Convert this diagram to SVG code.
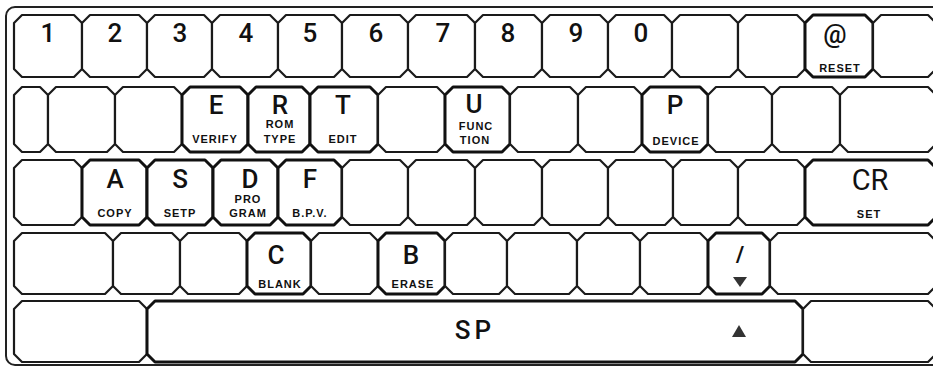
<svg xmlns="http://www.w3.org/2000/svg" width="933" height="367" viewBox="0 0 933 367">
<style>
.frame{fill:none;stroke:#222;stroke-width:2}
.k{fill:#fff;stroke:#1a1a1a;stroke-width:2.2;stroke-linejoin:round}
.kb{fill:#fff;stroke:#111;stroke-width:3;stroke-linejoin:round}
.m{font-family:Roboto,"Liberation Sans",Arial,sans-serif;font-weight:500;font-size:26px;fill:#111;text-anchor:middle}
.s{font-family:"Liberation Sans",Arial,sans-serif;font-weight:bold;font-size:11px;letter-spacing:1px;fill:#111;text-anchor:middle}
.tri{fill:#333}
</style>
<rect class="frame" x="6" y="7" width="940" height="358" rx="9"/>
<g id="row1">
<g id="key-1"><polygon class="k" points="22,15 74,15 82,23 82,69 74,77 22,77 14,69 14,23"/><text class="m" x="48" y="42">1</text></g>
<g id="key-2"><polygon class="k" points="90,15 139,15 147,23 147,69 139,77 90,77 82,69 82,23"/><text class="m" x="115" y="42">2</text></g>
<g id="key-3"><polygon class="k" points="155,15 204,15 212,23 212,69 204,77 155,77 147,69 147,23"/><text class="m" x="180" y="42">3</text></g>
<g id="key-4"><polygon class="k" points="220,15 270,15 278,23 278,69 270,77 220,77 212,69 212,23"/><text class="m" x="246" y="42">4</text></g>
<g id="key-5"><polygon class="k" points="286,15 334,15 342,23 342,69 334,77 286,77 278,69 278,23"/><text class="m" x="310" y="42">5</text></g>
<g id="key-6"><polygon class="k" points="350,15 400,15 408,23 408,69 400,77 350,77 342,69 342,23"/><text class="m" x="376" y="42">6</text></g>
<g id="key-7"><polygon class="k" points="416,15 467,15 475,23 475,69 467,77 416,77 408,69 408,23"/><text class="m" x="443" y="42">7</text></g>
<g id="key-8"><polygon class="k" points="483,15 534,15 542,23 542,69 534,77 483,77 475,69 475,23"/><text class="m" x="508" y="42">8</text></g>
<g id="key-9"><polygon class="k" points="550,15 600,15 608,23 608,69 600,77 550,77 542,69 542,23"/><text class="m" x="576" y="42">9</text></g>
<g id="key-0"><polygon class="k" points="616,15 664,15 672,23 672,69 664,77 616,77 608,69 608,23"/><text class="m" x="641" y="42">0</text></g>
<g id="key-r1-11"><polygon class="k" points="680,15 730,15 738,23 738,69 730,77 680,77 672,69 672,23"/></g>
<g id="key-r1-12"><polygon class="k" points="746,15 797,15 805,23 805,69 797,77 746,77 738,69 738,23"/></g>
<g id="key-at"><polygon class="kb" points="813,15 865,15 873,23 873,69 865,77 813,77 805,69 805,23"/><text class="m" x="835" y="43">@</text><text class="s" x="840" y="72">RESET</text></g>
<g id="key-r1-14"><polygon class="k" points="881,15 928,15 936,23 936,69 928,77 881,77 873,69 873,23"/></g>
</g>
<g id="row2">
<g id="key-r2-1"><polygon class="k" points="22,87 40,87 48,95 48,144 40,152 22,152 14,144 14,95"/></g>
<g id="key-r2-2"><polygon class="k" points="56,87 107,87 115,95 115,144 107,152 56,152 48,144 48,95"/></g>
<g id="key-r2-3"><polygon class="k" points="123,87 174,87 182,95 182,144 174,152 123,152 115,144 115,95"/></g>
<g id="key-E"><polygon class="kb" points="190,87 240,87 248,95 248,144 240,152 190,152 182,144 182,95"/><text class="m" x="216" y="114">E</text><text class="s" x="215" y="143">VERIFY</text></g>
<g id="key-R"><polygon class="kb" points="256,87 302,87 310,95 310,144 302,152 256,152 248,144 248,95"/><text class="m" x="280" y="114">R</text><text class="s" x="280" y="128">ROM</text><text class="s" x="280" y="143">TYPE</text></g>
<g id="key-T"><polygon class="kb" points="318,87 370,87 378,95 378,144 370,152 318,152 310,144 310,95"/><text class="m" x="343" y="114">T</text><text class="s" x="343" y="143">EDIT</text></g>
<g id="key-r2-8"><polygon class="k" points="386,87 437,87 445,95 445,144 437,152 386,152 378,144 378,95"/></g>
<g id="key-U"><polygon class="kb" points="453,87 502,87 510,95 510,144 502,152 453,152 445,144 445,95"/><text class="m" x="474" y="113">U</text><text class="s" x="476" y="130">FUNC</text><text class="s" x="475" y="144">TION</text></g>
<g id="key-r2-10"><polygon class="k" points="518,87 570,87 578,95 578,144 570,152 518,152 510,144 510,95"/></g>
<g id="key-r2-11"><polygon class="k" points="586,87 634,87 642,95 642,144 634,152 586,152 578,144 578,95"/></g>
<g id="key-P"><polygon class="kb" points="650,87 700,87 708,95 708,144 700,152 650,152 642,144 642,95"/><text class="m" x="675" y="114">P</text><text class="s" x="676" y="145">DEVICE</text></g>
<g id="key-r2-13"><polygon class="k" points="716,87 764,87 772,95 772,144 764,152 716,152 708,144 708,95"/></g>
<g id="key-r2-14"><polygon class="k" points="780,87 832,87 840,95 840,144 832,152 780,152 772,144 772,95"/></g>
<g id="key-r2-15"><polygon class="k" points="848,87 928,87 936,95 936,144 928,152 848,152 840,144 840,95"/></g>
</g>
<g id="row3">
<g id="key-r3-1"><polygon class="k" points="22,160 74,160 82,168 82,217 74,225 22,225 14,217 14,168"/></g>
<g id="key-A"><polygon class="kb" points="90,160 139,160 147,168 147,217 139,225 90,225 82,217 82,168"/><text class="m" x="115" y="188">A</text><text class="s" x="115" y="217">COPY</text></g>
<g id="key-S"><polygon class="kb" points="155,160 205,160 213,168 213,217 205,225 155,225 147,217 147,168"/><text class="m" x="180" y="188">S</text><text class="s" x="180" y="217">SETP</text></g>
<g id="key-D"><polygon class="kb" points="221,160 270,160 278,168 278,217 270,225 221,225 213,217 213,168"/><text class="m" x="250" y="188">D</text><text class="s" x="248" y="203">PRO</text><text class="s" x="248" y="217">GRAM</text></g>
<g id="key-F"><polygon class="kb" points="286,160 334,160 342,168 342,217 334,225 286,225 278,217 278,168"/><text class="m" x="310" y="188">F</text><text class="s" x="310" y="217">B.P.V.</text></g>
<g id="key-r3-6"><polygon class="k" points="350,160 400,160 408,168 408,217 400,225 350,225 342,217 342,168"/></g>
<g id="key-r3-7"><polygon class="k" points="416,160 467,160 475,168 475,217 467,225 416,225 408,217 408,168"/></g>
<g id="key-r3-8"><polygon class="k" points="483,160 534,160 542,168 542,217 534,225 483,225 475,217 475,168"/></g>
<g id="key-r3-9"><polygon class="k" points="550,160 600,160 608,168 608,217 600,225 550,225 542,217 542,168"/></g>
<g id="key-r3-10"><polygon class="k" points="616,160 665,160 673,168 673,217 665,225 616,225 608,217 608,168"/></g>
<g id="key-r3-11"><polygon class="k" points="681,160 730,160 738,168 738,217 730,225 681,225 673,217 673,168"/></g>
<g id="key-r3-12"><polygon class="k" points="746,160 797,160 805,168 805,217 797,225 746,225 738,217 738,168"/></g>
<g id="key-CR"><polygon class="kb" points="813,160 928,160 936,168 936,217 928,225 813,225 805,217 805,168"/><text class="m" x="870" y="190" style="font-size:29px;font-weight:400">CR</text><text class="s" x="869" y="218">SET</text></g>
</g>
<g id="row4">
<g id="key-r4-1"><polygon class="k" points="22,233 105,233 113,241 113,286 105,294 22,294 14,286 14,241"/></g>
<g id="key-r4-2"><polygon class="k" points="121,233 172,233 180,241 180,286 172,294 121,294 113,286 113,241"/></g>
<g id="key-r4-3"><polygon class="k" points="188,233 239,233 247,241 247,286 239,294 188,294 180,286 180,241"/></g>
<g id="key-C"><polygon class="kb" points="255,233 303,233 311,241 311,286 303,294 255,294 247,286 247,241"/><text class="m" x="276" y="264">C</text><text class="s" x="280" y="288">BLANK</text></g>
<g id="key-r4-5"><polygon class="k" points="319,233 370,233 378,241 378,286 370,294 319,294 311,286 311,241"/></g>
<g id="key-B"><polygon class="kb" points="386,233 437,233 445,241 445,286 437,294 386,294 378,286 378,241"/><text class="m" x="411" y="264">B</text><text class="s" x="413" y="288">ERASE</text></g>
<g id="key-r4-7"><polygon class="k" points="453,233 499,233 507,241 507,286 499,294 453,294 445,286 445,241"/></g>
<g id="key-r4-8"><polygon class="k" points="515,233 569,233 577,241 577,286 569,294 515,294 507,286 507,241"/></g>
<g id="key-r4-9"><polygon class="k" points="585,233 632,233 640,241 640,286 632,294 585,294 577,286 577,241"/></g>
<g id="key-r4-10"><polygon class="k" points="648,233 700,233 708,241 708,286 700,294 648,294 640,286 640,241"/></g>
<g id="key-slash"><polygon class="kb" points="716,233 762,233 770,241 770,286 762,294 716,294 708,286 708,241"/><text class="m" x="740" y="262" style="font-weight:bold;font-size:22px">/</text><polygon class="tri" points="733,277 747,277 740,287"/></g>
<g id="key-r4-12"><polygon class="k" points="778,233 928,233 936,241 936,286 928,294 778,294 770,286 770,241"/></g>
</g>
<g id="row5">
<g id="key-r5-1"><polygon class="k" points="22,301 139,301 147,309 147,354 139,362 22,362 14,354 14,309"/></g>
<g id="key-SP"><polygon class="kb" points="155,301 795,301 803,309 803,354 795,362 155,362 147,354 147,309"/><text class="m" x="475" y="339" style="letter-spacing:4px">SP</text><polygon class="tri" points="732,337 746,337 739,325"/></g>
<g id="key-r5-3"><polygon class="k" points="811,301 928,301 936,309 936,354 928,362 811,362 803,354 803,309"/></g>
</g>
<g id="connectors"/>
</svg>
